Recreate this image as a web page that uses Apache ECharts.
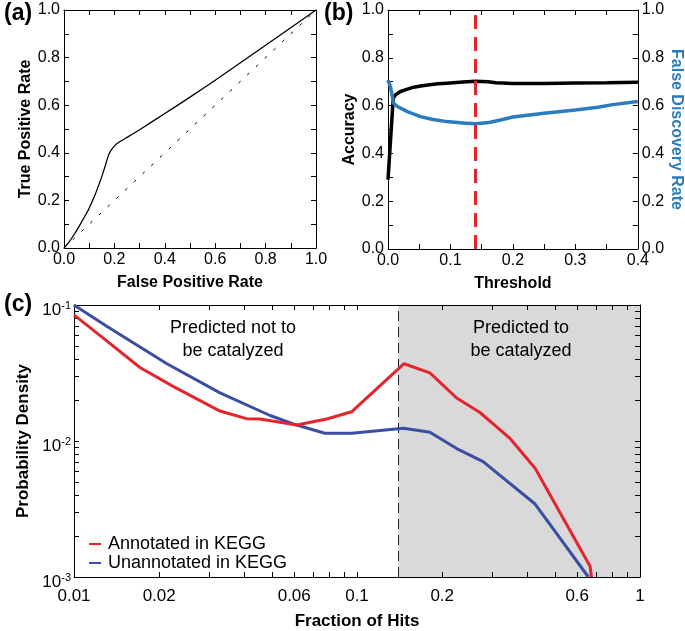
<!DOCTYPE html>
<html>
<head>
<meta charset="utf-8">
<script src="https://cdn.jsdelivr.net/npm/echarts@6/dist/echarts.min.js"></script>
<style>
html,body{margin:0;padding:0;background:#fff;}
#chart{width:685px;height:631px;}
</style>
</head>
<body>
<div id="chart"></div>
<script>
// ---------- Panel (a): ROC ----------
const rocFPR = [0, 0.02, 0.044, 0.07, 0.097, 0.12, 0.136, 0.15, 0.163, 0.175, 0.185, 0.2, 0.216, 0.249, 0.3, 0.4, 0.5, 0.6, 0.8, 1.0];
const rocTPR = [0, 0.025, 0.063, 0.11, 0.161, 0.215, 0.259, 0.30, 0.343, 0.385, 0.408, 0.428, 0.443, 0.464, 0.497, 0.565, 0.634, 0.705, 0.852, 1.0];
const diagX = [0, 1];
const diagY = [0, 1];
const unitTicks = ['0.0', '0.2', '0.4', '0.6', '0.8', '1.0'];

// ---------- Panel (b): accuracy / FDR vs threshold ----------
const accThreshold = [0, 0.0084, 0.012, 0.02, 0.03, 0.041, 0.055, 0.067, 0.08, 0.094, 0.12, 0.14, 0.16, 0.173, 0.2, 0.25, 0.3, 0.35, 0.4];
const accuracy     = [0.29, 0.631, 0.645, 0.659, 0.668, 0.677, 0.683, 0.687, 0.691, 0.694, 0.699, 0.702, 0.700, 0.696, 0.692, 0.692, 0.695, 0.696, 0.698];
const fdrThreshold = [0, 0.004, 0.009, 0.015, 0.031, 0.052, 0.07, 0.094, 0.12, 0.14, 0.162, 0.18, 0.2, 0.25, 0.3, 0.336, 0.357, 0.4];
const fdr          = [0.707, 0.677, 0.61, 0.596, 0.575, 0.554, 0.543, 0.533, 0.527, 0.524, 0.529, 0.54, 0.552, 0.568, 0.582, 0.593, 0.603, 0.617];
const chosenThreshold = 0.14;
const thresholdTicks = ['0.0', '0.1', '0.2', '0.3', '0.4'];

// ---------- Panel (c): probability density vs fraction of hits ----------
const hitsAnnot = [0.01, 0.01305, 0.0171, 0.0224, 0.0328, 0.0407, 0.0454, 0.0612, 0.0782, 0.0957, 0.1466, 0.181, 0.225, 0.272, 0.348, 0.426, 0.666, 0.674];
const densAnnot = [0.0847, 0.0545, 0.0347, 0.0252, 0.0166, 0.0146, 0.0145, 0.0131, 0.0145, 0.0164, 0.037, 0.0317, 0.0207, 0.0162, 0.0104, 0.0063, 0.0012, 0.001];
const hitsUnannot = [0.01, 0.01305, 0.0213, 0.0328, 0.0493, 0.0612, 0.077, 0.0957, 0.146, 0.181, 0.225, 0.279, 0.426, 0.657];
const densUnannot = [0.1, 0.0698, 0.037, 0.0226, 0.0154, 0.0131, 0.0114, 0.0114, 0.0124, 0.0116, 0.0088, 0.00706, 0.00344, 0.001];
const hitsCutoff = 0.14;
const hitsTickLabels = [0.01, 0.02, 0.06, 0.1, 0.2, 0.6, 1];
const densTickLabels = [0.001, 0.01, 0.1];
const seriesNames = ['Annotated in KEGG', 'Unannotated in KEGG'];

// ---------- helpers ----------
const FONT = 'Liberation Sans, Arial, Helvetica, sans-serif';
const zip = (a, b) => a.map((v, i) => [v, b[i]]);
function logTicks(lo, hi) {
  const out = [];
  for (let e = Math.round(Math.log10(lo)); e < Math.round(Math.log10(hi)); e++) {
    for (let m = 1; m <= 9; m++) out.push(+(m * Math.pow(10, e)).toPrecision(6));
  }
  out.push(hi);
  return out;
}
const axisLine = {show: true, onZero: false, lineStyle: {color: '#000', width: 1}};
const tick = {show: true, inside: true, length: 5, lineStyle: {color: '#000', width: 1}};
const nameStyle = {fontFamily: FONT, fontWeight: 'bold', fontSize: 16, color: '#000'};
const labelStyle = {fontFamily: FONT, fontSize: 16, color: '#000'};

function linAxis(gi, pos, min, max, interval, labels, extra) {
  const o = {
    type: 'value', gridIndex: gi, position: pos, min: min, max: max, interval: interval,
    axisLine: axisLine, axisTick: tick, splitLine: {show: false},
    axisLabel: labels ? Object.assign({
      margin: 4,
      formatter: function (v) {
        const s = v.toFixed(1);
        return (labels.indexOf(s) >= 0 && Math.abs(v - parseFloat(s)) < 1e-9) ? s : '';
      }
    }, labelStyle) : {show: false}
  };
  return Object.assign(o, extra || {});
}

const xTicksC = logTicks(0.01, 1);
const yTicksC = logTicks(0.001, 0.1);

const option = {
  animation: false,
  backgroundColor: '#fff',
  grid: [
    {left: 64, top: 10, width: 252, height: 238},
    {left: 388, top: 10, width: 253, height: 239},
    {left: 74, top: 305, width: 566, height: 278}
  ],
  legend: {
    left: 84, top: 530, orient: 'vertical', itemGap: 1,
    icon: 'rect', itemWidth: 12, itemHeight: 2,
    data: seriesNames,
    textStyle: {fontFamily: FONT, fontSize: 18, color: '#000', padding: [0, 0, 0, 2]}
  },
  xAxis: [
    linAxis(0, 'bottom', 0, 1, 0.1, unitTicks, {name: 'False Positive Rate', nameLocation: 'middle', nameGap: 27, nameTextStyle: nameStyle}),
    linAxis(0, 'top', 0, 1, 0.1, null),
    linAxis(1, 'bottom', 0, 0.4, 0.05, thresholdTicks, {name: 'Threshold', nameLocation: 'middle', nameGap: 27, nameTextStyle: nameStyle}),
    linAxis(1, 'top', 0, 0.4, 0.05, null),
    {
      type: 'log', logBase: 10, gridIndex: 2, position: 'bottom', min: 0.01, max: 1,
      axisLine: axisLine, splitLine: {show: false},
      axisTick: Object.assign({customValues: xTicksC}, tick),
      minorTick: {show: false},
      axisLabel: Object.assign({customValues: hitsTickLabels, margin: 11, formatter: v => String(+v.toPrecision(3))}, labelStyle, {fontSize: 17}),
      name: 'Fraction of Hits', nameLocation: 'middle', nameGap: 36, nameTextStyle: Object.assign({}, nameStyle, {fontSize: 17})
    },
    {
      type: 'log', logBase: 10, gridIndex: 2, position: 'top', min: 0.01, max: 1,
      axisLine: axisLine, splitLine: {show: false},
      axisTick: Object.assign({customValues: xTicksC}, tick),
      axisLabel: {show: false}
    }
  ],
  yAxis: [
    linAxis(0, 'left', 0, 1, 0.1, unitTicks, {name: 'True Positive Rate', nameLocation: 'middle', nameGap: 22, nameTextStyle: nameStyle}),
    linAxis(0, 'right', 0, 1, 0.1, null),
    linAxis(1, 'left', 0, 1, 0.1, unitTicks, {name: 'Accuracy', nameLocation: 'middle', nameGap: 24, nameTextStyle: nameStyle}),
    linAxis(1, 'right', 0, 1, 0.1, unitTicks, {name: 'False Discovery Rate', nameLocation: 'middle', nameGap: 19, nameRotate: -90,
      nameTextStyle: Object.assign({}, nameStyle, {color: '#2b7bbf'})}),
    {
      type: 'log', logBase: 10, gridIndex: 2, position: 'left', min: 0.001, max: 0.1,
      axisLine: axisLine, splitLine: {show: false},
      axisTick: Object.assign({customValues: yTicksC}, tick),
      axisLabel: {
        customValues: densTickLabels, margin: 3, padding: [11, 0, 0, 0],
        formatter: v => '{b|10}{s|' + Math.round(Math.log10(v)) + '}',
        rich: {
          b: {fontFamily: FONT, fontSize: 17, color: '#000'},
          s: {fontFamily: FONT, fontSize: 11, color: '#000', padding: [0, 0, 10, 0]}
        }
      },
      name: 'Probability Density', nameLocation: 'middle', nameGap: 36, nameTextStyle: Object.assign({}, nameStyle, {fontSize: 17})
    },
    {
      type: 'log', logBase: 10, gridIndex: 2, position: 'right', min: 0.001, max: 0.1,
      axisLine: axisLine, splitLine: {show: false},
      axisTick: Object.assign({customValues: yTicksC}, tick),
      axisLabel: {show: false}
    }
  ],
  graphic: [
    {type: 'text', left: 4, top: 2, style: {text: '(a)', font: 'bold 23px ' + FONT, fill: '#000'}},
    {type: 'text', left: 324, top: 2, style: {text: '(b)', font: 'bold 23px ' + FONT, fill: '#000'}},
    {type: 'text', left: 4, top: 293, style: {text: '(c)', font: 'bold 23px ' + FONT, fill: '#000'}},
    {type: 'text', x: 233, y: 317, style: {text: 'Predicted not to\nbe catalyzed', font: '18px ' + FONT, fill: '#000', align: 'center', lineHeight: 23}},
    {type: 'text', x: 521, y: 317, style: {text: 'Predicted to\nbe catalyzed', font: '18px ' + FONT, fill: '#000', align: 'center', lineHeight: 23}, z: 10}
  ],
  series: [
    {
      type: 'line', xAxisIndex: 0, yAxisIndex: 0, data: zip(diagX, diagY), symbol: 'none',
      lineStyle: {color: '#000', width: 1, type: [3, 9]}, silent: true
    },
    {
      type: 'line', xAxisIndex: 0, yAxisIndex: 0, data: zip(rocFPR, rocTPR), symbol: 'none', smooth: 0.2,
      lineStyle: {color: '#000', width: 1.3}
    },
    {
      type: 'line', xAxisIndex: 2, yAxisIndex: 2, data: zip(accThreshold, accuracy), symbol: 'none',
      lineStyle: {color: '#000', width: 3.5}, z: 3
    },
    {
      type: 'line', xAxisIndex: 2, yAxisIndex: 3, data: zip(fdrThreshold, fdr), symbol: 'none',
      lineStyle: {color: '#2b7bbf', width: 3.5}, z: 4,
      markLine: {
        silent: true, symbol: 'none', label: {show: false},
        lineStyle: {color: '#e3262d', width: 3, type: [14, 8]},
        data: [{xAxis: chosenThreshold}]
      }
    },
    {
      name: seriesNames[1], type: 'line', xAxisIndex: 4, yAxisIndex: 4, data: zip(hitsUnannot, densUnannot), symbol: 'none',
      lineStyle: {color: '#3a4ea3', width: 3}, itemStyle: {color: '#3a4ea3'}, z: 5,
      markArea: {
        silent: true, itemStyle: {color: '#d9d9d9'}, z: 0,
        data: [[{xAxis: hitsCutoff}, {xAxis: 1}]]
      },
      markLine: {
        silent: true, symbol: 'none', label: {show: false},
        lineStyle: {color: '#222', width: 1, type: [10, 6]},
        data: [{xAxis: hitsCutoff}]
      }
    },
    {
      name: seriesNames[0], type: 'line', xAxisIndex: 4, yAxisIndex: 4, data: zip(hitsAnnot, densAnnot), symbol: 'none',
      lineStyle: {color: '#e3262d', width: 3}, itemStyle: {color: '#e3262d'}, z: 6
    }
  ]
};

const chart = echarts.init(document.getElementById('chart'), null, {renderer: 'canvas'});
chart.setOption(option);
</script>
</body>
</html>
